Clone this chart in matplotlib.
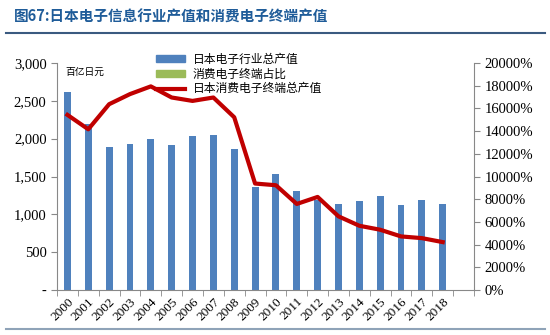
import matplotlib.pyplot as plt
from matplotlib.patches import Patch
from matplotlib.lines import Line2D
from matplotlib.ticker import FuncFormatter

serif = ['Liberation Serif', 'Noto Sans CJK SC']
plt.rcParams['font.family'] = serif

years = [str(y) for y in range(2000, 2019)]
# 日本电子行业总产值 (百亿日元)
industry = [2620, 2190, 1890, 1935, 1990, 1912, 2036, 2049, 1859, 1364,
            1536, 1305, 1186, 1138, 1182, 1244, 1125, 1195, 1138]
# 日本消费电子终端总产值 (%)
consumer = [15430, 14160, 16370, 17260, 17940, 16960, 16660, 16960, 15220, 9380,
            9230, 7580, 8200, 6490, 5660, 5310, 4720, 4570, 4220]

cjk = ['Noto Sans CJK SC', 'DejaVu Sans']
bar_c = '#4F81BD'
line_c = '#C00000'

fig = plt.figure(figsize=(5.5, 3.35), dpi=100)
fig.text(0.025, 0.952, '图67:日本电子信息行业产值和消费电子终端产值', family=cjk,
         fontsize=10.5, color='#1F5C99', fontweight='bold', va='center')
fig.add_artist(Line2D([0.01, 0.99], [0.902, 0.902], color='#3A5A80', lw=1.5))
fig.add_artist(Line2D([0.01, 0.99], [0.018, 0.018], color='#8FA3B8', lw=1.5))

ax = fig.add_axes([57 / 550, 1 - 290 / 335, 417 / 550, 227 / 335])
x = list(range(len(years)))
ax.bar(x, industry, width=0.33, color=bar_c, zorder=2)
ax.set_xlim(-0.5, 19.5)
ax.set_ylim(0, 3000)
ax.set_yticks(range(0, 3001, 500))
ax.yaxis.set_major_formatter(FuncFormatter(lambda v, p: '-' if v == 0 else f'{int(v):,}'))
ax.set_xticks(x)
ax.set_xticklabels(years, rotation=45, ha='right', rotation_mode='anchor',
                   fontsize=9.5, family=serif)
ax.set_xticks([i - 0.5 for i in range(21)], minor=True)
ax.tick_params(axis='x', which='major', length=0, pad=4)
ax.tick_params(axis='x', which='minor', length=4, direction='out', color='#888888')
ax.tick_params(axis='y', length=4, direction='out', color='#888888', labelsize=10.5)
for s in ['top', 'right']:
    ax.spines[s].set_visible(False)
for s in ['left', 'bottom']:
    ax.spines[s].set_color('#888888')
ax.text(0.02, 0.985, '百亿日元', transform=ax.transAxes, family=cjk, fontsize=7,
        va='top', ha='left')

ax2 = ax.twinx()
ax2.plot(x, consumer, color=line_c, lw=3, zorder=3)
ax2.set_ylim(0, 20000)
ax2.set_yticks(range(0, 20001, 2000))
ax2.yaxis.set_major_formatter(FuncFormatter(lambda v, p: f'{int(v)}%'))
ax2.tick_params(axis='y', length=4, direction='out', color='#888888', labelsize=10.5)
for s in ['top', 'left', 'bottom']:
    ax2.spines[s].set_visible(False)
ax2.spines['right'].set_color('#888888')
for lab in ax.get_yticklabels() + ax2.get_yticklabels():
    lab.set_family(serif)

handles = [Patch(color=bar_c), Patch(color='#9BBB59'), Line2D([], [], color=line_c, lw=3)]
labels = ['日本电子行业总产值', '消费电子终端占比', '日本消费电子终端总产值']
leg = fig.legend(handles, labels, loc='upper left', bbox_to_anchor=(150 / 550, 1 - 47 / 335),
                 frameon=False, prop={'family': cjk, 'size': 8.5}, handlelength=2.5,
                 handleheight=0.5, labelspacing=0.15, borderpad=0, handletextpad=0.6)

fig.savefig('out.png', dpi=100)
